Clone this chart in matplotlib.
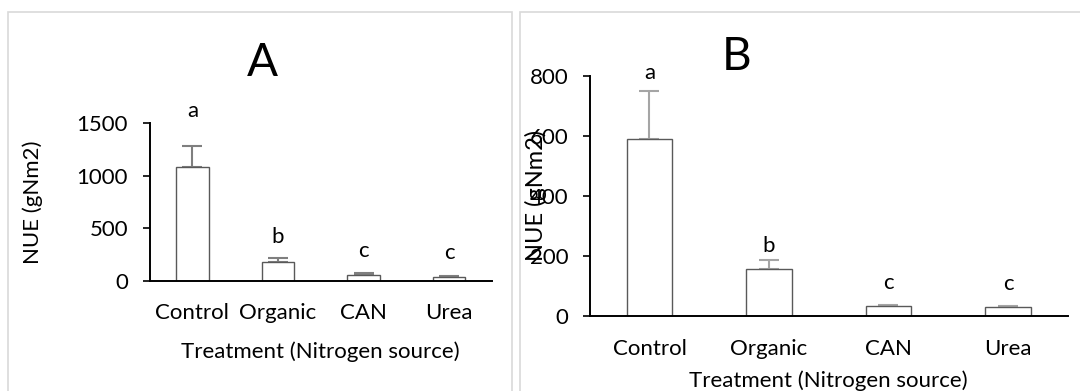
import matplotlib.pyplot as plt
from matplotlib.patches import Rectangle

plt.rcParams['font.family'] = ['Lato', 'DejaVu Sans']

treatments = ['Control', 'Organic', 'CAN', 'Urea']

# panel A
nue_a = [1080, 183, 60, 35]
err_a = [205, 32, 16, 10]
letters_a = ['a', 'b', 'c', 'c']
letter_y_a = [1615, 420, 285, 265]

# panel B
nue_b = [588, 155, 31, 28]
err_b = [161, 30, 4, 4]
letters_b = ['a', 'b', 'c', 'c']
letter_y_b = [810, 232, 110, 106]

fig = plt.figure(figsize=(10.8, 3.91), dpi=100)
fig.set_facecolor('white')

# frames round each chart
fig.patches.append(Rectangle((8 / 1080, -0.1), (511.7 - 8) / 1080, 1.1 - 12 / 391,
                             transform=fig.transFigure, fill=False,
                             edgecolor='#d9d9d9', linewidth=1.2))
fig.patches.append(Rectangle((520 / 1080, -0.1), 0.6, 1.1 - 12 / 391,
                             transform=fig.transFigure, fill=False,
                             edgecolor='#d9d9d9', linewidth=1.2))


def draw_panel(ax, values, errs, letters, letter_y, ymax, step, errcolor, pad):
    x = range(len(treatments))
    ax.bar(x, values, width=0.38, color='white', edgecolor='#595959',
           linewidth=1.0, zorder=2)
    ax.errorbar(x, values, yerr=[[0] * len(errs), errs], fmt='none',
                ecolor=errcolor, elinewidth=1.5, capsize=7, capthick=1.5, zorder=1)
    for xi, lab, ly in zip(x, letters, letter_y):
        ax.text(xi, ly, lab, ha='center', va='center', fontsize=16, clip_on=False)
    ax.set_xlim(-0.5, 3.5)
    ax.set_ylim(0, ymax)
    ax.set_yticks(range(0, ymax + 1, step))
    ax.set_xticks(list(x))
    ax.set_xticklabels(treatments, fontsize=16)
    ax.tick_params(axis='x', length=0, pad=pad)
    ax.tick_params(axis='y', direction='out', length=5.4, width=1.2,
                   labelsize=16, pad=10)
    for side in ['top', 'right']:
        ax.spines[side].set_visible(False)
    for side in ['left', 'bottom']:
        ax.spines[side].set_linewidth(1.4)
        ax.spines[side].set_color('black')


ax_a = fig.add_axes([149.5 / 1080, 1 - 281 / 391, (492 - 149.5) / 1080, (281 - 123) / 391])
draw_panel(ax_a, nue_a, err_a, letters_a, letter_y_a, 1500, 500, '#7f7f7f', 16)
ax_a.set_xlabel('Treatment (Nitrogen source)', fontsize=16, labelpad=13)
ax_a.set_ylabel('NUE (gNm2)', fontsize=16)
ax_a.yaxis.set_label_coords(-0.311, 0.5)
fig.text(262 / 1080, 1 - 63 / 391, 'A', fontsize=33, ha='center', va='center')

ax_b = fig.add_axes([589.7 / 1080, 1 - 315.7 / 391, (1067.7 - 589.7) / 1080, (315.7 - 75.7) / 391])
draw_panel(ax_b, nue_b, err_b, letters_b, letter_y_b, 800, 200, '#a5a5a5', 17)
ax_b.set_xlabel('Treatment (Nitrogen source)', fontsize=16, labelpad=8)
ax_b.set_ylabel('NUE (gNm2)', fontsize=17)
ax_b.yaxis.set_label_coords(-0.089, 0.5)
fig.text(737 / 1080, 1 - 57 / 391, 'B', fontsize=33, ha='center', va='center')

plt.savefig('out.png', dpi=100)
